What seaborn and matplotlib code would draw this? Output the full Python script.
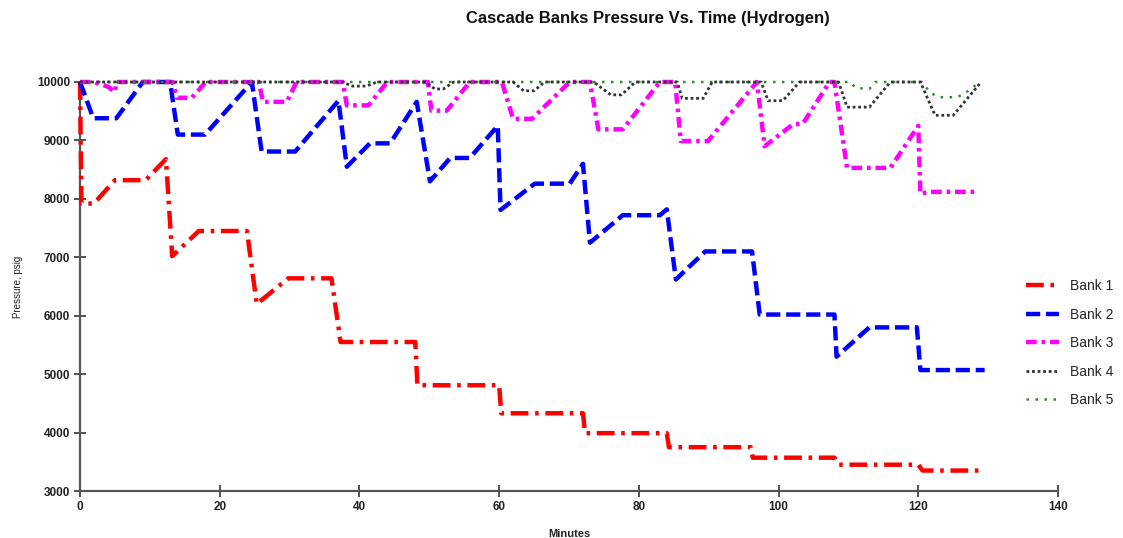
import matplotlib
matplotlib.use("Agg")
import matplotlib.pyplot as plt
import seaborn as sns

# ---------------- data ----------------
t1 = [0, 0.2, 2.0, 5.0, 9.4, 12.3, 13.2, 17.0, 23.9, 25.3, 29.8, 36.0, 37.3, 48.0, 48.3,
      60.0, 60.3, 72.0, 72.3, 84.0, 84.3, 96.0, 96.3, 108.0, 108.6, 120.0, 120.6, 129.5]
p1 = [10000, 7920, 7920, 8320, 8320, 8680, 7020, 7450, 7450, 6200, 6640, 6640, 5550, 5550, 4810,
      4810, 4330, 4330, 3990, 3990, 3750, 3750, 3570, 3570, 3450, 3450, 3350, 3350]

t2 = [0, 1.9, 5.2, 9.0, 12.9, 14.0, 17.9, 24.6, 26.0, 30.8, 37.0, 38.2, 41.5, 44.4, 48.2,
      50.1, 53.0, 55.8, 59.8, 60.2, 65.1, 70.1, 72.0, 73.0, 77.7, 83.0, 84.0, 85.3, 89.5, 96.2,
      97.3, 108.0, 108.3, 113.0, 119.8, 120.3, 129.5]
p2 = [10000, 9380, 9380, 10000, 10000, 9100, 9100, 10000, 8810, 8810, 9680, 8550, 8950, 8950, 9660,
      8300, 8700, 8700, 9250, 7810, 8260, 8260, 8600, 7250, 7720, 7720, 7820, 6620, 7100, 7100,
      6020, 6020, 5300, 5800, 5800, 5070, 5070]

t3 = [0, 2.0, 4.0, 5.0, 5.2, 13.3, 13.9, 16.0, 18.0, 25.6, 26.2, 29.6, 31.0, 37.6, 38.2, 41.3, 44.0,
      49.8, 50.3, 52.5, 55.8, 60.4, 62.0, 64.7, 70.1, 73.0, 74.2, 77.7, 83.0, 85.2, 86.0, 89.9,
      96.9, 98.0, 102.0, 103.5, 107.3, 108.0, 109.8, 116.0, 120.0, 120.3, 121.8, 128.0]
p3 = [10000, 10000, 9920, 9830, 10000, 10000, 9730, 9730, 10000, 10000, 9660, 9660, 10000, 10000, 9600, 9600, 10000,
      10000, 9510, 9510, 10000, 10000, 9370, 9370, 10000, 10000, 9190, 9190, 10000, 10000, 8990, 8990,
      10000, 8900, 9270, 9290, 10000, 10000, 8530, 8530, 9250, 8090, 8120, 8120]

t4 = [0, 37.5, 39.0, 41.0, 42.5, 49.5, 50.8, 52.0, 53.5, 62.0, 63.5, 65.0, 66.5, 73.5, 76.0, 77.5, 79.5,
      85.5, 86.2, 89.2, 90.5, 97.5, 98.5, 100.6, 103.0, 108.6, 109.8, 113.0, 116.0, 120.3, 122.4, 125.0, 129.0]
p4 = [10000, 10000, 9930, 9930, 10000, 10000, 9880, 9880, 10000, 10000, 9850, 9850, 10000, 10000, 9780, 9780, 10000,
      10000, 9720, 9720, 10000, 10000, 9680, 9680, 10000, 10000, 9570, 9570, 10000, 10000, 9430, 9430, 10000]

t5 = [0, 110.3, 111.0, 113.0, 113.8, 120.5, 121.8, 123.0, 125.5, 126.5, 127.5, 128.8]
p5 = [10000, 10000, 9900, 9880, 10000, 10000, 9810, 9740, 9740, 9790, 9880, 10000]

labels = ["Bank 1", "Bank 2", "Bank 3", "Bank 4", "Bank 5"]
x_ticks = [0, 20, 40, 60, 80, 100, 120, 140]
y_ticks = [3000, 4000, 5000, 6000, 7000, 8000, 9000, 10000]

# ---------------- style ----------------
sns.set_theme(style="white")
plt.rcParams["font.family"] = ["Liberation Sans", "DejaVu Sans"]

fig = plt.figure(figsize=(11.23, 5.38), dpi=100)
ax = fig.add_axes([80 / 1123, 1 - 491 / 538, (1058 - 80) / 1123, (491 - 82) / 538])

series = [
    (t1, p1, "#ff0000", 3.2, (0, (4.0, 1.5, 0.8, 1.5)), 3),
    (t2, p2, "#0000ff", 3.2, (0, (3.2, 1.3)), 4),
    (t3, p3, "#ff00ff", 3.2, (0, (2.4, 1.1, 0.8, 1.1)), 5),
    (t4, p4, "#333333", 2.0, (0, (1.0, 1.0)), 7),
    (t5, p5, "#2e8b2e", 1.8, (0, (1.0, 2.6)), 6),
]
for (tx, py, col, lw, ls, z), lab in zip(series, labels):
    sns.lineplot(x=tx, y=py, ax=ax, color=col, linewidth=lw, estimator=None,
                 sort=False, label=lab, legend=False)
    ln = ax.lines[-1]
    ln.set_linestyle(ls)
    ln.set_clip_on(False)
    ln.set_zorder(z)

ax.set_xlim(0, 140)
ax.set_ylim(3000, 10000)
ax.set_xticks(x_ticks)
ax.set_yticks(y_ticks)
ax.set_xticklabels([str(v) for v in x_ticks], fontsize=8.5, fontweight="bold")
ax.set_yticklabels([str(v) for v in y_ticks], fontsize=8.5, fontweight="bold")
ax.tick_params(axis="both", direction="inout", length=8, width=1.3, color="#444444",
               labelcolor="#222222", pad=3, left=True, bottom=True)
for side in ["top", "right"]:
    ax.spines[side].set_visible(False)
for side in ["left", "bottom"]:
    ax.spines[side].set_color("#555555")
    ax.spines[side].set_linewidth(1.6)
ax.grid(False)

ax.set_xlabel("Minutes", fontsize=8, fontweight="bold", color="#222222", labelpad=12)
ax.set_ylabel("Pressure, psig", fontsize=7, color="#222222", labelpad=10)

fig.text(648 / 1123, 1 - 19 / 538, "Cascade Banks Pressure Vs. Time (Hydrogen)",
         ha="center", va="center", fontsize=12, fontweight="bold", color="#111111")

handles = ax.lines[:5]
fig.legend(handles, labels, loc="upper left", bbox_to_anchor=(1026 / 1123, 1 - 279 / 538),
           frameon=False, fontsize=10, handlelength=2.4, labelspacing=1.05,
           handletextpad=0.8, borderaxespad=0, borderpad=0)

fig.savefig("out.png", dpi=100)
